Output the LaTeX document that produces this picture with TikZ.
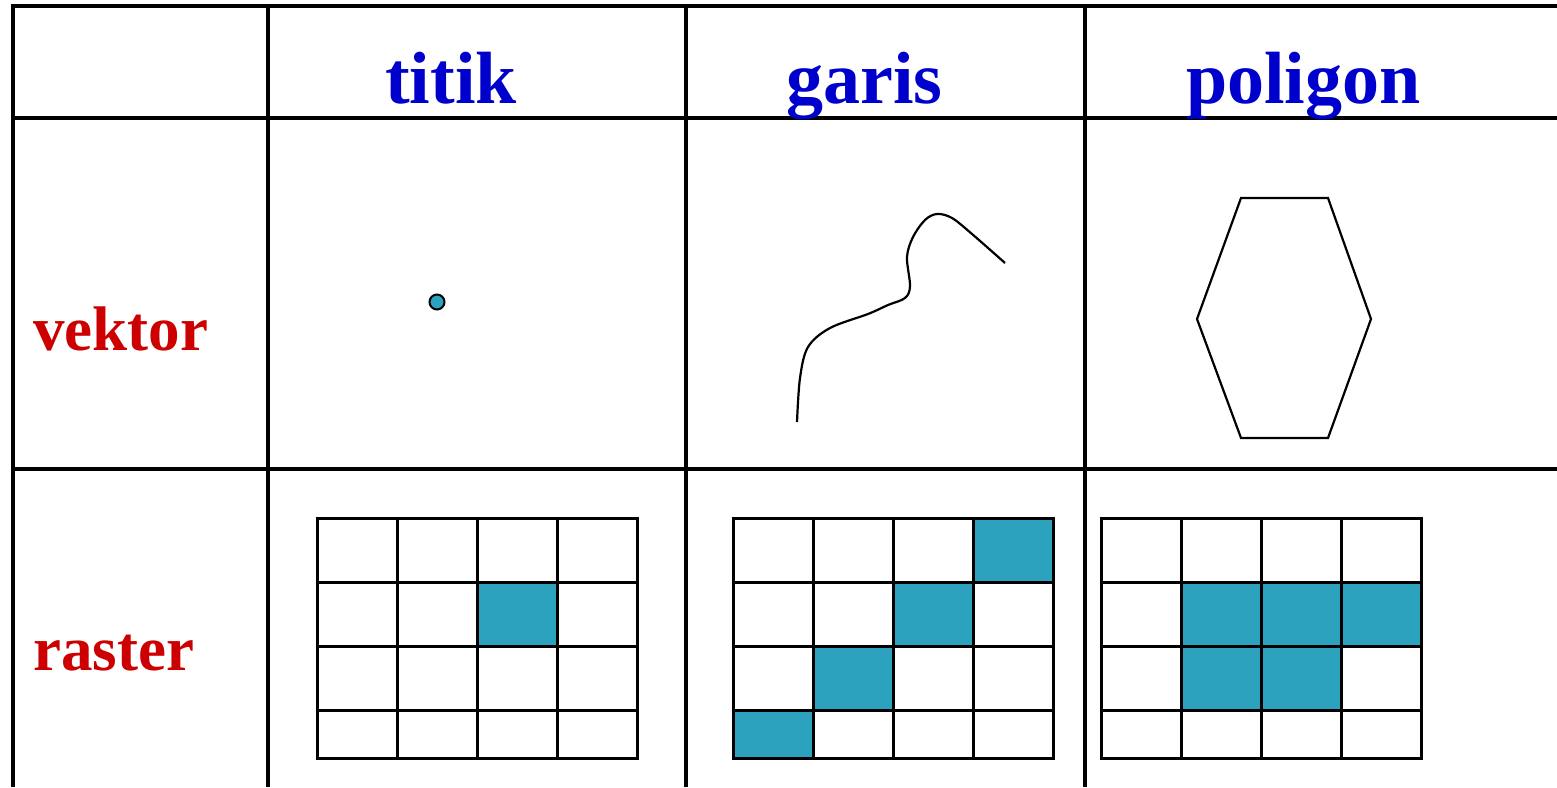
\documentclass[tikz,border=0pt]{standalone}
\usepackage{fontspec}
\setmainfont{Liberation Serif}
\definecolor{myteal}{RGB}{44,162,191}
\definecolor{headblue}{RGB}{0,0,204}
\definecolor{rowred}{RGB}{204,0,0}
\begin{document}
\begin{tikzpicture}[x=1pt,y=-1pt,
  tline/.style={line width=3.2pt},
  gline/.style={line width=3pt,line cap=rect},
  cell/.style={fill=myteal},
  head/.style={anchor=base west,inner sep=0pt,text=headblue,font=\fontsize{74}{74}\selectfont\bfseries},
  rowlab/.style={anchor=base west,inner sep=0pt,text=rowred,font=\fontsize{63}{63}\selectfont\bfseries},
  stroke/.style={line width=2.2pt,line join=miter}]
\useasboundingbox (0,0) rectangle (1557,787);
% table
\draw[tline] (13,787) -- (13,6) -- (1557,6);
\draw[tline] (13,118) -- (1557,118);
\draw[tline] (13,469) -- (1557,469);
\foreach \x in {268,686,1085} \draw[tline] (\x,6) -- (\x,787);
% headings
\node[head] (h1) at (385,103) {titik};
\node[head] (h2) at (786,103) {garis};
\node[head] (h3) at (1186,103) {poligon};
\node[rowlab] (r1) at (33,350) {vektor};
\node[rowlab] (r2) at (33,670) {raster};
% vector point
\filldraw[fill=myteal,draw=black,line width=2pt] (437,302) circle (7.5);
% vector line
\draw[stroke,line cap=butt] plot[smooth,tension=0.55] coordinates {(797,422) (800,378) (808,347) (830,328) (868,314) (888,305) (905,298) (910,286) (907,257) (913,237) (925,220) (937,214) (952,218) (972,234) (1005,263)};
% hexagon
\draw[stroke] (1241,198) -- (1328,198) -- (1371,319) -- (1328,438) -- (1241,438) -- (1197,319) -- cycle;
% raster grids
\foreach \gx/\cells in {317/{3/2}, 733/{4/1,3/2,2/3,1/4}, 1101/{2/2,3/2,4/2,2/3,3/3}} {
  \foreach \c/\r in \cells {
    \pgfmathsetmacro{\xa}{\gx+80*(\c-1)}
    \pgfmathsetmacro{\ya}{518+64*(\r-1)}
    \pgfmathsetmacro{\yb}{min(\ya+64,758)}
    \fill[cell] (\xa,\ya) rectangle (\xa+80,\yb);
  }
  \foreach \i in {0,...,4} \draw[gline] (\gx+80*\i,518) -- (\gx+80*\i,758);
  \foreach \y in {518,582,646,710,758} \draw[gline] (\gx,\y) -- (\gx+320,\y);
}
\end{tikzpicture}
\end{document}
